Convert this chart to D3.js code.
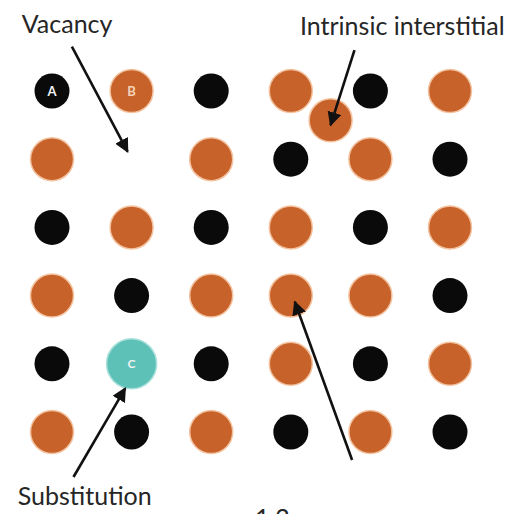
<!DOCTYPE html>
<html>
<head>
<meta charset="utf-8">
<script src="https://cdn.jsdelivr.net/npm/d3@7"></script>
<style>
  body { margin: 0; background: #fff; }
  svg { display: block; }
</style>
</head>
<body>
<svg id="chart" width="508" height="514"></svg>
<script>
// lattice, row by row: A = black atom, B = orange atom, C = substituted atom, "" = vacancy
const latticeRows = [
  ["A", "B", "A", "B", "A", "B"],
  ["B", "",  "B", "A", "B", "A"],
  ["A", "B", "A", "B", "A", "B"],
  ["B", "A", "B", "B", "B", "A"],
  ["A", "C", "A", "B", "A", "B"],
  ["B", "A", "B", "A", "B", "A"]
]
// atoms carrying a letter  [col, row, letter]
const letteredAtoms = [[0, 0, "A"], [1, 0, "B"], [1, 4, "C"]]
// extra atom squeezed between sites  [col, row, type]
const interstitials = [[3.5, 0.43, "B"]]
// arrows in lattice units  [fromCol, fromRow, toCol, toRow]
const arrows = [
  [0.25, -0.65, 0.95, 0.89],
  [3.80, -0.60, 3.50, 0.50],
  [0.27, 5.66, 0.92, 4.36],
  [3.77, 5.41, 3.05, 3.09]
]
// labels  [col, row, text]
const labels = [
  [-0.38, -0.85, "Vacancy"],
  [3.115, -0.82, "Intrinsic interstitial"],
  [-0.43, 6.07, "Substitution"],
  [2.55, 6.4, "1.2"]
]

const colors = { A: "#0a0a0a", B: "#c8622b", C: "#5dc1b8" }
const radius = { A: 17.5, B: 21.5, C: 25 }

const svg = d3.select("#chart")

const x = d3.scaleLinear().domain([0, 5]).range([52, 450])
const y = d3.scaleLinear().domain([0, 5]).range([91, 432])

// arrow head
svg.append("defs").append("marker")
  .attr("id", "head")
  .attr("viewBox", "0 0 10 10")
  .attr("refX", 9).attr("refY", 5)
  .attr("markerWidth", 5.5).attr("markerHeight", 5.5)
  .attr("markerUnits", "strokeWidth")
  .attr("orient", "auto")
  .append("path")
  .attr("d", "M0,0 L10,5 L0,10 z")
  .attr("fill", "#111")

//----------------atoms
let atoms = []
latticeRows.forEach((row, r) => {
  row.forEach((t, c) => { if (t != "") atoms.push({ col: c, row: r, type: t }) })
})
interstitials.forEach(d => atoms.push({ col: d[0], row: d[1], type: d[2] }))

svg.selectAll("circle.atom")
  .data(atoms)
  .join("circle")
  .attr("class", "atom")
  .attr("cx", d => x(d.col))
  .attr("cy", d => y(d.row))
  .attr("r", d => radius[d.type])
  .attr("fill", d => colors[d.type])
  .attr("stroke", d => d.type == "B" ? "#f3c3a0" : (d.type == "C" ? "#a9e0da" : "none"))
  .attr("stroke-width", 1.5)

svg.selectAll("text.letter")
  .data(letteredAtoms)
  .join("text")
  .attr("class", "letter")
  .attr("x", d => x(d[0]))
  .attr("y", d => y(d[1]) + 4.5)
  .attr("text-anchor", "middle")
  .attr("font-family", "Lato, sans-serif")
  .attr("font-weight", "bold")
  .attr("font-size", d => d[2] == "C" ? 12 : 13)
  .attr("fill", d => d[2] == "B" ? "#f4d2b8" : "#f2f2f2")
  .text(d => d[2])

//----------------arrows
svg.selectAll("line.arrow")
  .data(arrows)
  .join("line")
  .attr("class", "arrow")
  .attr("x1", d => x(d[0])).attr("y1", d => y(d[1]))
  .attr("x2", d => x(d[2])).attr("y2", d => y(d[3]))
  .attr("stroke", "#111")
  .attr("stroke-width", 2.6)
  .attr("marker-end", "url(#head)")

//----------------labels
svg.selectAll("text.label")
  .data(labels)
  .join("text")
  .attr("class", "label")
  .attr("x", d => x(d[0]))
  .attr("y", d => y(d[1]))
  .attr("font-family", "Lato, sans-serif")
  .attr("font-size", 25)
  .attr("fill", "#262626")
  .text(d => d[2])
</script>
</body>
</html>
